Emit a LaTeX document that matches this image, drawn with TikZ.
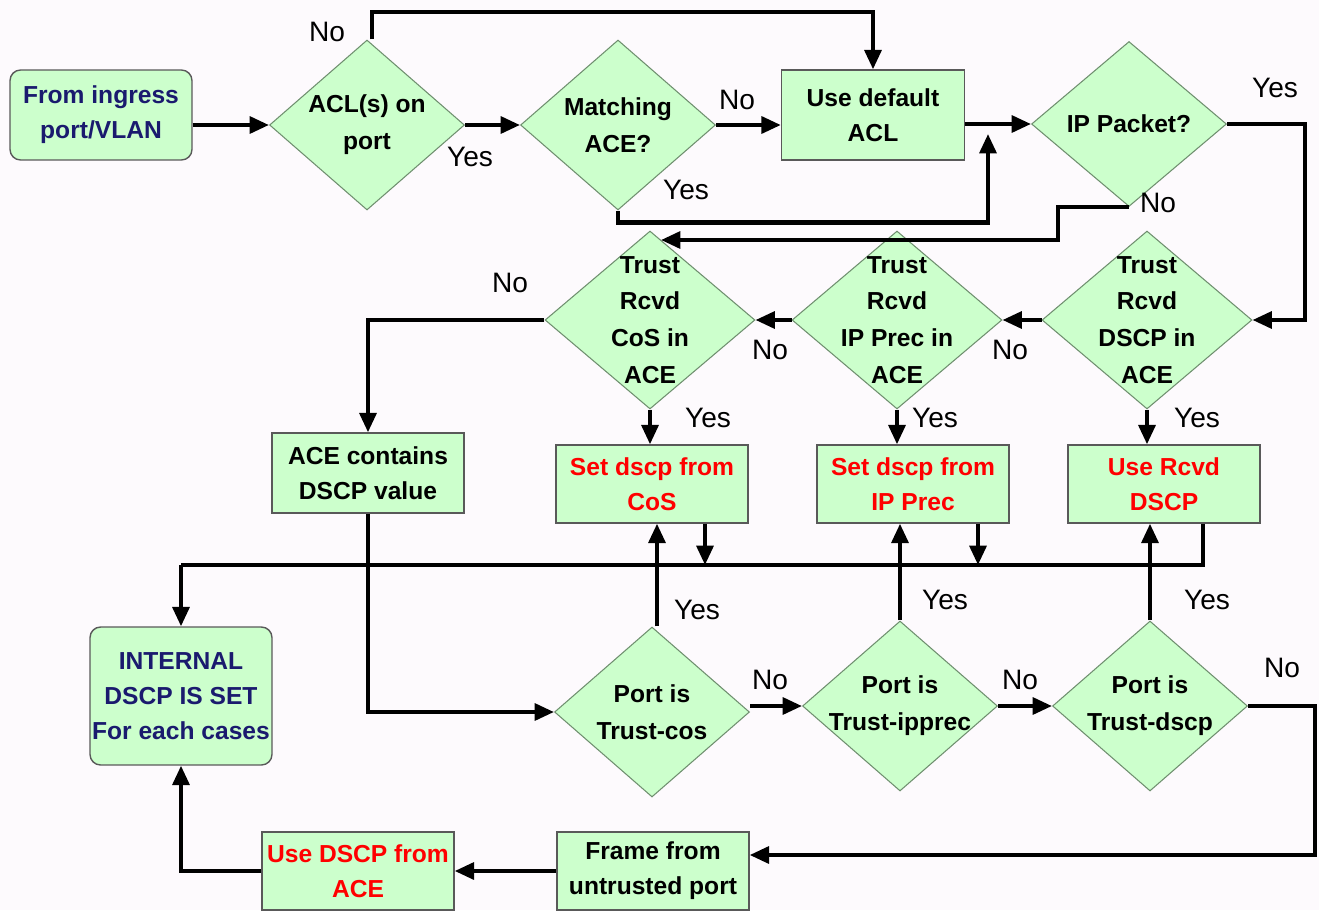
\documentclass[tikz,border=0pt]{standalone}
\usepackage{fontspec}
\setmainfont{Liberation Sans}
\usepackage{xcolor}
\definecolor{boxgreen}{HTML}{CCFFCC}
\definecolor{navytxt}{HTML}{1A1A6E}
\definecolor{redtxt}{HTML}{FF0000}
\definecolor{edgegreen}{HTML}{6F8F6F}
\definecolor{paper}{HTML}{FDFAFD}
\usetikzlibrary{arrows.meta, shapes.geometric}

\begin{document}
\begin{tikzpicture}[x=0.02cm, y=-0.02cm, >={Triangle[length=11pt, width=9.5pt]},
  block/.style={draw=black!65, line width=0.8pt, fill=boxgreen, align=center,
    minimum width=3.84cm, minimum height=1.56cm, inner sep=0pt,
    font=\fontsize{14}{20}\selectfont\bfseries},
  roundblock/.style={block, rounded corners=6pt, text=navytxt},
  decision/.style={draw=edgegreen, line width=0.6pt, fill=boxgreen, diamond,
    inner sep=0pt, minimum width=3.9cm, minimum height=3.4cm},
  qtext/.style={align=center, font=\fontsize{14}{21}\selectfont\bfseries},
  flow/.style={->, line width=2.3pt},
  answer/.style={font=\fontsize{16}{18}\selectfont}]

  % paper
  \fill[paper] (0,0) rectangle (1319,910);
  \useasboundingbox (0,0) rectangle (1319,910);

  % Top row
  \node[roundblock, minimum width=3.64cm, minimum height=1.8cm] (ingress) at (101,115) {From ingress\\port/VLAN};
  \node[decision, label={[qtext]center:ACL(s) on\\port}] (acl) at (367,125) {};
  \node[decision, label={[qtext]center:Matching\\ACE?}] (match) at (618,125) {};
  \node[block, minimum width=3.66cm, minimum height=1.8cm] (default) at (873,115) {Use default\\ACL};
  \node[decision, minimum height=3.3cm, label={[qtext]center:IP Packet?}] (ippkt) at (1129,124) {};

  % Trust in ACE row
  \node[decision, minimum width=4.2cm, minimum height=3.56cm,
    label={[qtext]center:Trust\\Rcvd\\CoS in\\ACE}] (tcos) at (650,320) {};
  \node[decision, minimum width=4.2cm, minimum height=3.56cm,
    label={[qtext]center:Trust\\Rcvd\\IP Prec in\\ACE}] (tprec) at (897,320) {};
  \node[decision, minimum width=4.2cm, minimum height=3.56cm,
    label={[qtext]center:Trust\\Rcvd\\DSCP in\\ACE}] (tdscp) at (1147,320) {};

  % Result boxes
  \node[block, minimum height=1.6cm] (acedscp) at (368,473) {ACE contains\\DSCP value};
  \node[block, text=redtxt] (setcos) at (652,484) {Set dscp from\\CoS};
  \node[block, text=redtxt] (setprec) at (913,484) {Set dscp from\\IP Prec};
  \node[block, text=redtxt] (rcvd) at (1164,484) {Use Rcvd\\DSCP};
  \node[roundblock, minimum width=3.64cm, minimum height=2.76cm] (internal) at (181,696)
    {INTERNAL\\DSCP IS SET\\For each cases};

  % Port trust row
  \node[decision, label={[qtext]center:Port is\\Trust-cos}] (pcos) at (652,712) {};
  \node[decision, label={[qtext]center:Port is\\Trust-ipprec}] (pprec) at (900,706) {};
  \node[decision, label={[qtext]center:Port is\\Trust-dscp}] (pdscp) at (1150,706) {};

  % Bottom row
  \node[block] (frame) at (653,871) {Frame from\\untrusted port};
  \node[block, text=redtxt] (useace) at (358,871) {Use DSCP from\\ACE};

  % bend points
  \coordinate (topbend) at (372,12);
  \coordinate (yesjoin) at (988,134);
  \coordinate (rbend) at (1305,320);
  \coordinate (nobend) at (1058,240);
  \coordinate (cosin) at (661,240);
  \coordinate (busR) at (1203,565);
  \coordinate (busL) at (181,565);
  \coordinate (dropcos) at (705,565);
  \coordinate (dropprec) at (978,565);
  \coordinate (rbend2) at (1315,855);

  % ACL lookup
  \draw[flow] (ingress.east |- acl.west) -- (acl.west);
  \draw[flow] (acl.east) -- (match.west);
  \draw[flow] (acl.north -| topbend) -- (topbend) -| (default.north);
  \draw[flow] (match.east) -- (match.east -| default.west);
  \draw[flow] (match.south) -- ++(0,12) -| (yesjoin);
  \draw[flow] (ippkt.west -| default.east) -- (ippkt.west);

  % IP packet branches
  \draw[flow] (ippkt.east) -- (ippkt.east -| rbend) -- (rbend) -- (tdscp.east);
  \draw[flow] (ippkt.south) -| (nobend) -- (cosin);

  % Trust in ACE chain
  \draw[flow] (tdscp.west) -- (tprec.east);
  \draw[flow] (tprec.west) -- (tcos.east);
  \draw[flow] (tcos.west) -| (acedscp.north);
  \draw[flow] (tcos.south) -- (tcos.south |- setcos.north);
  \draw[flow] (tprec.south) -- (tprec.south |- setprec.north);
  \draw[flow] (tdscp.south) -- (tdscp.south |- rcvd.north);

  % Common bus to internal DSCP
  \draw[line width=2.3pt] (rcvd.south -| busR) -- (busR) -- (busL);
  \draw[flow] (busL) -- (internal.north);
  \draw[flow] (setcos.south -| dropcos) -- (dropcos);
  \draw[flow] (setprec.south -| dropprec) -- (dropprec);

  % Port trust chain
  \draw[flow] (acedscp.south) |- (pcos.west);
  \draw[flow] (pcos.north -| 657,0) -- (setcos.south -| 657,0);
  \draw[flow] (pprec.north) -- (pprec.north |- setprec.south);
  \draw[flow] (pdscp.north) -- (pdscp.north |- rcvd.south);
  \draw[flow] (pprec.west -| pcos.east) -- (pprec.west);
  \draw[flow] (pprec.east) -- (pdscp.west);
  \draw[flow] (pdscp.east) -| (rbend2) -- (rbend2 -| frame.east);
  \draw[flow] (frame.west) -- (useace.east);
  \draw[flow] (useace.west) -| (internal.south);

  % Yes / No labels
  \node[answer] (n1) at (327,32) {No};
  \node[answer] (y1) at (470,157) {Yes};
  \node[answer] (n2) at (737,100) {No};
  \node[answer] (y2) at (686,190) {Yes};
  \node[answer] (y3) at (1275,88) {Yes};
  \node[answer] (n3) at (1158,203) {No};
  \node[answer] (n4) at (510,283) {No};
  \node[answer] (n5) at (770,350) {No};
  \node[answer] (n6) at (1010,350) {No};
  \node[answer] (y4) at (708,418) {Yes};
  \node[answer] (y5) at (935,418) {Yes};
  \node[answer] (y6) at (1197,418) {Yes};
  \node[answer] (y7) at (697,610) {Yes};
  \node[answer] (y8) at (945,600) {Yes};
  \node[answer] (y9) at (1207,600) {Yes};
  \node[answer] (n7) at (770,680) {No};
  \node[answer] (n8) at (1020,680) {No};
  \node[answer] (n9) at (1282,668) {No};

\end{tikzpicture}
\end{document}
